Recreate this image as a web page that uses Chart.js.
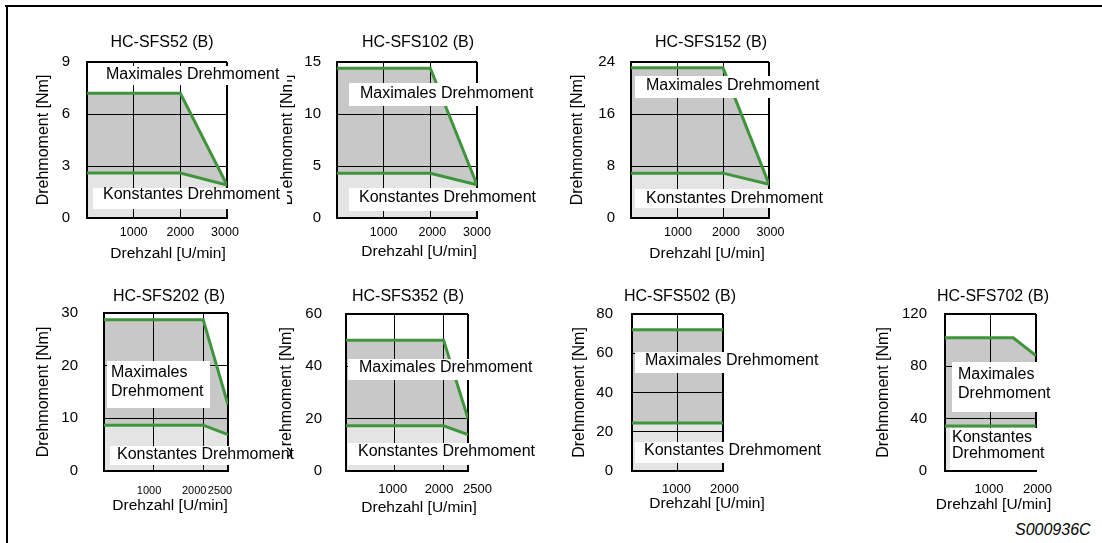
<!DOCTYPE html>
<html>
<head>
<meta charset="utf-8">
<script src="https://cdn.jsdelivr.net/npm/chart.js@4.4.0/dist/chart.umd.min.js"></script>
<style>
  body { margin: 0; background: #fff; width: 1102px; height: 543px; position: relative; overflow: hidden;
         font-family: "Liberation Sans", Arial, sans-serif; }
  .frame-top { position: absolute; left: 5px; top: 5px; width: 1097px; height: 2px; background: #000; }
  .frame-left { position: absolute; left: 6px; top: 5px; width: 2px; height: 538px; background: #000; }
  canvas { position: absolute; }
  #code { position: absolute; left: 1015px; top: 521px; font-style: italic; font-size: 16px; }
</style>
</head>
<body>
<div class="frame-top"></div>
<div class="frame-left"></div>
<div id="code">S000936C</div>

<script>
// motor names
const titles = ['HC-SFS52 (B)', 'HC-SFS102 (B)', 'HC-SFS152 (B)', 'HC-SFS202 (B)',
                'HC-SFS352 (B)', 'HC-SFS502 (B)', 'HC-SFS702 (B)'];

// torque [Nm] over speed [U/min]
const sfs52Speed = [0, 2000, 3000];
const sfs52Max = [7.2, 7.2, 1.9];
const sfs52Const = [2.6, 2.6, 1.9];

const sfs102Speed = [0, 2000, 3000];
const sfs102Max = [14.4, 14.4, 3.2];
const sfs102Const = [4.3, 4.3, 3.2];

const sfs152Speed = [0, 2000, 3000];
const sfs152Max = [23.1, 23.1, 5.2];
const sfs152Const = [6.9, 6.9, 5.2];

const sfs202Speed = [0, 2000, 2500];
const sfs202Max = [28.7, 28.7, 12.6];
const sfs202Const = [8.7, 8.7, 6.9];

const sfs352Speed = [0, 2000, 2500];
const sfs352Max = [50, 50, 20];
const sfs352Const = [17.3, 17.3, 13.9];

const sfs502Speed = [0, 2000];
const sfs502Max = [72, 72];
const sfs502Const = [24.4, 24.4];

const sfs702Speed = [0, 1500, 2000];
const sfs702Max = [101.8, 101.8, 88.2];
const sfs702Const = [34.4, 34.4, 34.4];

// axes
const yMaxes = [9, 15, 24, 30, 60, 80, 120];
const ySteps = [3, 5, 8, 10, 20, 20, 40];
const xTicks3000 = [1000, 2000, 3000];
const xTicks2500 = [1000, 2000, 2500];
const xTicks2000 = [1000, 2000];

const labelMax = 'Maximales Drehmoment';
const labelConst = 'Konstantes Drehmoment';
const yTitle = 'Drehmoment [Nm]';
const xTitle = 'Drehzahl [U/min]';

const speeds = [sfs52Speed, sfs102Speed, sfs152Speed, sfs202Speed, sfs352Speed, sfs502Speed, sfs702Speed];
const maxes = [sfs52Max, sfs102Max, sfs152Max, sfs202Max, sfs352Max, sfs502Max, sfs702Max];
const consts = [sfs52Const, sfs102Const, sfs152Const, sfs202Const, sfs352Const, sfs502Const, sfs702Const];
const xTickSets = [xTicks3000, xTicks3000, xTicks3000, xTicks2500, xTicks2500, xTicks2000, xTicks2000];

// page positions (plot box, text spots, x label nudges, white label boxes: x, y, w, h, textX, line centers, split)
const layout = [
  { l: 87, r: 227, t: 62, b: 218, yt: 43.5, yPad: 17, xlf: 12.5, xly: 15, xdx: [0, 0, -2],
    xtx: 168, xty: 254, tx: 162, ty: 43,
    boxes: [[100, 66, 187, 19, 106, [75], false], [93, 188, 194, 21, 103, [195], false]] },
  { l: 337, r: 477, t: 62, b: 218, yt: 287.5, yPad: 16, xlf: 12.5, xly: 15, xdx: [0, 2, 0],
    xtx: 419, xty: 251.5, tx: 418, ty: 43,
    boxes: [[349, 83, 186, 23, 360, [94], false], [349, 188, 186, 23, 359, [197.5], false]] },
  { l: 631, r: 769, t: 62, b: 218, yt: 577.5, yPad: 16, xlf: 12.5, xly: 15, xdx: [1, 3, 1.5],
    xtx: 707, xty: 254, tx: 711, ty: 43,
    boxes: [[635, 76, 185, 22, 646, [86], false], [635, 189, 185, 19, 646, [198.5], false]] },
  { l: 104, r: 228, t: 313, b: 471, yt: 43.5, yPad: 26, xlf: 11, xly: 20, xdx: [-4.5, -9, -8],
    xtx: 170, xty: 505.5, tx: 169, ty: 297,
    boxes: [[107, 361, 103, 47, 111, [373, 392], true], [110, 446, 177, 19, 117, [455], false]] },
  { l: 346, r: 468, t: 314, b: 471, yt: 286.5, yPad: 24, xlf: 13, xly: 18.5, xdx: [-2, -4.5, 9.5],
    xtx: 419, xty: 507.5, tx: 408, ty: 297,
    boxes: [[348, 359, 185, 21, 359, [368], false], [348, 443, 186, 22, 358, [452], false]] },
  { l: 632, r: 723, t: 314, b: 471, yt: 580, yPad: 19, xlf: 13, xly: 18.5, xdx: [-1, 1.5],
    xtx: 707, xty: 504, tx: 680, ty: 297,
    boxes: [[635, 352, 185, 21, 645, [361], false], [635, 442, 185, 21, 644, [451], false]] },
  { l: 945, r: 1036, t: 314, b: 471, yt: 884, yPad: 18, xlf: 13, xly: 18.5, xdx: [-1.5, 1.5],
    xtx: 993.5, xty: 504.5, tx: 993, ty: 297,
    boxes: [[952, 362, 101, 50, 958, [375, 394], true], [950, 428, 95, 42, 952, [438, 454], true]] }
];

const FONT = '"Liberation Sans", Arial, sans-serif';
Chart.defaults.font.family = FONT;
Chart.defaults.color = '#000';

const LEFT = 90, TOP = 50, RIGHT = 100, BOTTOM = 50;

// titles, speed labels and the white caption boxes
const textPlugin = {
  id: 'texts',
  afterDraw(chart, args, opts) {
    const L = opts.lay;
    const ctx = chart.ctx;
    const area = chart.chartArea;
    const ox = L.l - area.left;
    const oy = L.t - area.top;
    ctx.save();
    ctx.fillStyle = '#000';
    ctx.textBaseline = 'middle';
    ctx.textAlign = 'center';
    ctx.font = '16px ' + FONT;
    ctx.fillText(opts.title, L.tx - ox, L.ty - oy);
    ctx.font = '15.5px ' + FONT;
    ctx.fillText(xTitle, L.xtx - ox, L.xty - oy);

    const xs = chart.scales.x;
    ctx.font = L.xlf + 'px ' + FONT;
    opts.ticks.forEach((v, k) => {
      ctx.fillText(String(v), xs.getPixelForValue(v) + L.xdx[k], area.bottom + L.xly);
    });

    ctx.font = '16px ' + FONT;
    ctx.textAlign = 'left';
    L.boxes.forEach((bx, i) => {
      const [x, y, w, h, tx, centers, split] = bx;
      ctx.fillStyle = '#fff';
      ctx.fillRect(x - ox, y - oy, w, h);
      ctx.fillStyle = '#000';
      const text = i === 0 ? labelMax : labelConst;
      const lines = split ? text.split(' ') : [text];
      lines.forEach((s, k) => ctx.fillText(s, tx - ox, centers[k] - oy));
    });
    ctx.restore();
  }
};

layout.forEach((L, i) => {
  const canvas = document.createElement('canvas');
  const w = LEFT + (L.r - L.l) + RIGHT;
  const h = TOP + (L.b - L.t) + BOTTOM;
  canvas.width = w;
  canvas.height = h;
  canvas.style.left = (L.l - LEFT) + 'px';
  canvas.style.top = (L.t - TOP) + 'px';
  canvas.style.width = w + 'px';
  canvas.style.height = h + 'px';
  canvas.style.zIndex = 10 - i;
  document.body.appendChild(canvas);

  const yMax = yMaxes[i];
  const xt = xTickSets[i];
  const xMax = xt[xt.length - 1];

  new Chart(canvas, {
    type: 'line',
    data: {
      labels: speeds[i],
      datasets: [
        {
          label: labelMax,
          data: speeds[i].map((s, k) => ({ x: s, y: maxes[i][k] })),
          borderColor: '#3f953c',
          borderWidth: 3,
          pointRadius: 0,
          fill: '+1',
          backgroundColor: '#c8c8c8'
        },
        {
          label: labelConst,
          data: speeds[i].map((s, k) => ({ x: s, y: consts[i][k] })),
          borderColor: '#3f953c',
          borderWidth: 3,
          pointRadius: 0,
          fill: 'origin',
          backgroundColor: '#e4e4e4'
        }
      ]
    },
    options: {
      responsive: false,
      animation: false,
      layout: { padding: { top: TOP, right: RIGHT, left: 0, bottom: 0 } },
      plugins: {
        legend: { display: false },
        tooltip: { enabled: false },
        filler: { drawTime: 'beforeDraw' },
        texts: { lay: L, title: titles[i], ticks: xt }
      },
      scales: {
        x: {
          type: 'linear',
          min: 0,
          max: xMax,
          afterBuildTicks: s => { s.ticks = xt.map(v => ({ value: v })); },
          afterFit: s => { s.height = BOTTOM; },
          ticks: { display: false },
          grid: {
            color: '#000',
            drawTicks: false,
            lineWidth: c => (c.tick && c.tick.value === xMax ? 2 : 1)
          },
          border: { color: '#000', width: 2 }
        },
        y: {
          min: 0,
          max: yMax,
          afterFit: s => { s.width = LEFT; },
          ticks: {
            stepSize: ySteps[i],
            padding: L.yPad,
            font: { size: 15 },
            callback: v => String(v)
          },
          grid: {
            color: '#000',
            drawTicks: false,
            lineWidth: c => (c.tick && c.tick.value === yMax ? 2 : 1)
          },
          border: { color: '#000', width: 2 },
          title: {
            display: true,
            text: yTitle,
            font: { size: 16 },
            padding: { top: LEFT - (L.l - L.yt) - 9.6, bottom: 0 }
          }
        }
      }
    },
    plugins: [textPlugin]
  });
});
</script>
</body>
</html>
